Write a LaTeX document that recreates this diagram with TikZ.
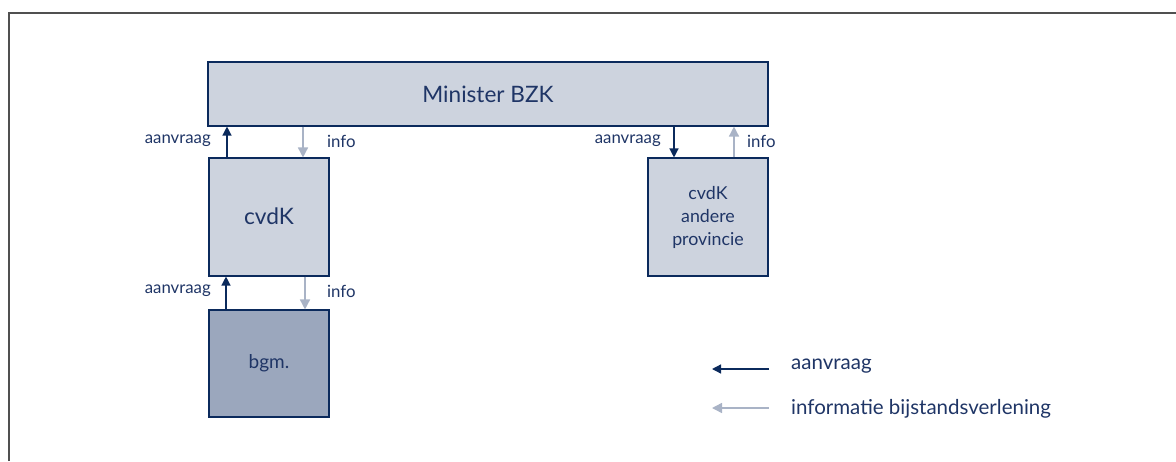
\documentclass[tikz,border=0pt]{standalone}
\usepackage{fontspec}
\setmainfont{Lato}
\usetikzlibrary{arrows.meta}
\definecolor{navy}{HTML}{0B2A5C}
\definecolor{txt}{HTML}{1F3566}
\definecolor{boxfill}{HTML}{CDD3DE}
\definecolor{darkfill}{HTML}{9BA7BD}
\definecolor{infocol}{HTML}{A9B3C6}
\definecolor{frame}{HTML}{505050}
\tikzset{
  box/.style={draw=navy, line width=1.1pt, fill=boxfill, inner sep=0pt, text=txt, align=center},
  req/.style={draw=navy, line width=1.3pt, -{Triangle[length=9pt,width=9pt]}},
  inf/.style={draw=infocol, line width=1.5pt, -{Triangle[length=10pt,width=10pt]}},
  lbl/.style={text=txt, inner sep=0pt, font=\fontsize{16.8}{20}\selectfont},
  leg/.style={text=txt, inner sep=0pt, anchor=west, font=\fontsize{20.5}{24}\selectfont}
}
\begin{document}
\begin{tikzpicture}[x=1pt,y=-1pt]
\useasboundingbox (0,0) rectangle (1176,461);
\draw[frame, line width=1.6pt] (9,461) -- (9,13) -- (1176,13);

\node[box, minimum width=560pt, minimum height=64pt, font=\fontsize{22.6}{27}\selectfont] (min) at (488,94) {Minister BZK};
\node[box, minimum width=120pt, minimum height=118pt, font=\fontsize{22.7}{27}\selectfont] (cvdk) at (269,217) {\raisebox{2pt}{cvdK}};
\node[box, fill=darkfill, minimum width=120pt, minimum height=107pt, font=\fontsize{19}{23}\selectfont] (bgm) at (269,363.5) {\raisebox{5pt}{bgm.}};
\node[box, minimum width=120pt, minimum height=118pt, font=\fontsize{17.8}{23}\selectfont] (and) at (708,217) {\raisebox{4pt}{\parbox{115pt}{\centering cvdK\\andere\\provincie}}};

% cvdK <-> Minister
\draw[req] (227,0 |- cvdk.north) -- (227,0 |- min.south);
\draw[inf] (303,0 |- min.south) -- (303,0 |- cvdk.north);
% bgm <-> cvdK
\draw[req] (226,0 |- bgm.north) -- (226,0 |- cvdk.south);
\draw[inf] (305,0 |- cvdk.south) -- (305,0 |- bgm.north);
% andere provincie <-> Minister
\draw[req] (674,0 |- min.south) -- (674,0 |- and.north);
\draw[inf] (734,0 |- and.north) -- (734,0 |- min.south);

\node[lbl, anchor=east] (l1) at (211,141) {aanvraag};
\node[lbl, anchor=west] (l2) at (327,141) {info};
\node[lbl, anchor=east] (l3) at (211,291) {aanvraag};
\node[lbl, anchor=west] (l4) at (327,291) {info};
\node[lbl, anchor=east] (l5) at (661,141) {aanvraag};
\node[lbl, anchor=west] (l6) at (747,141) {info};

% legend
\coordinate (a1s) at (769,369);
\coordinate (a1e) at (712,369);
\coordinate (a2s) at (769,408);
\coordinate (a2e) at (712,408);
\draw[req] (a1s) -- (a1e);
\draw[inf] (a2s) -- (a2e);
\node[leg] (t1) at (791,366) {aanvraag};
\node[leg] (t2) at (791,409) {informatie bijstandsverlening};
\end{tikzpicture}
\end{document}
